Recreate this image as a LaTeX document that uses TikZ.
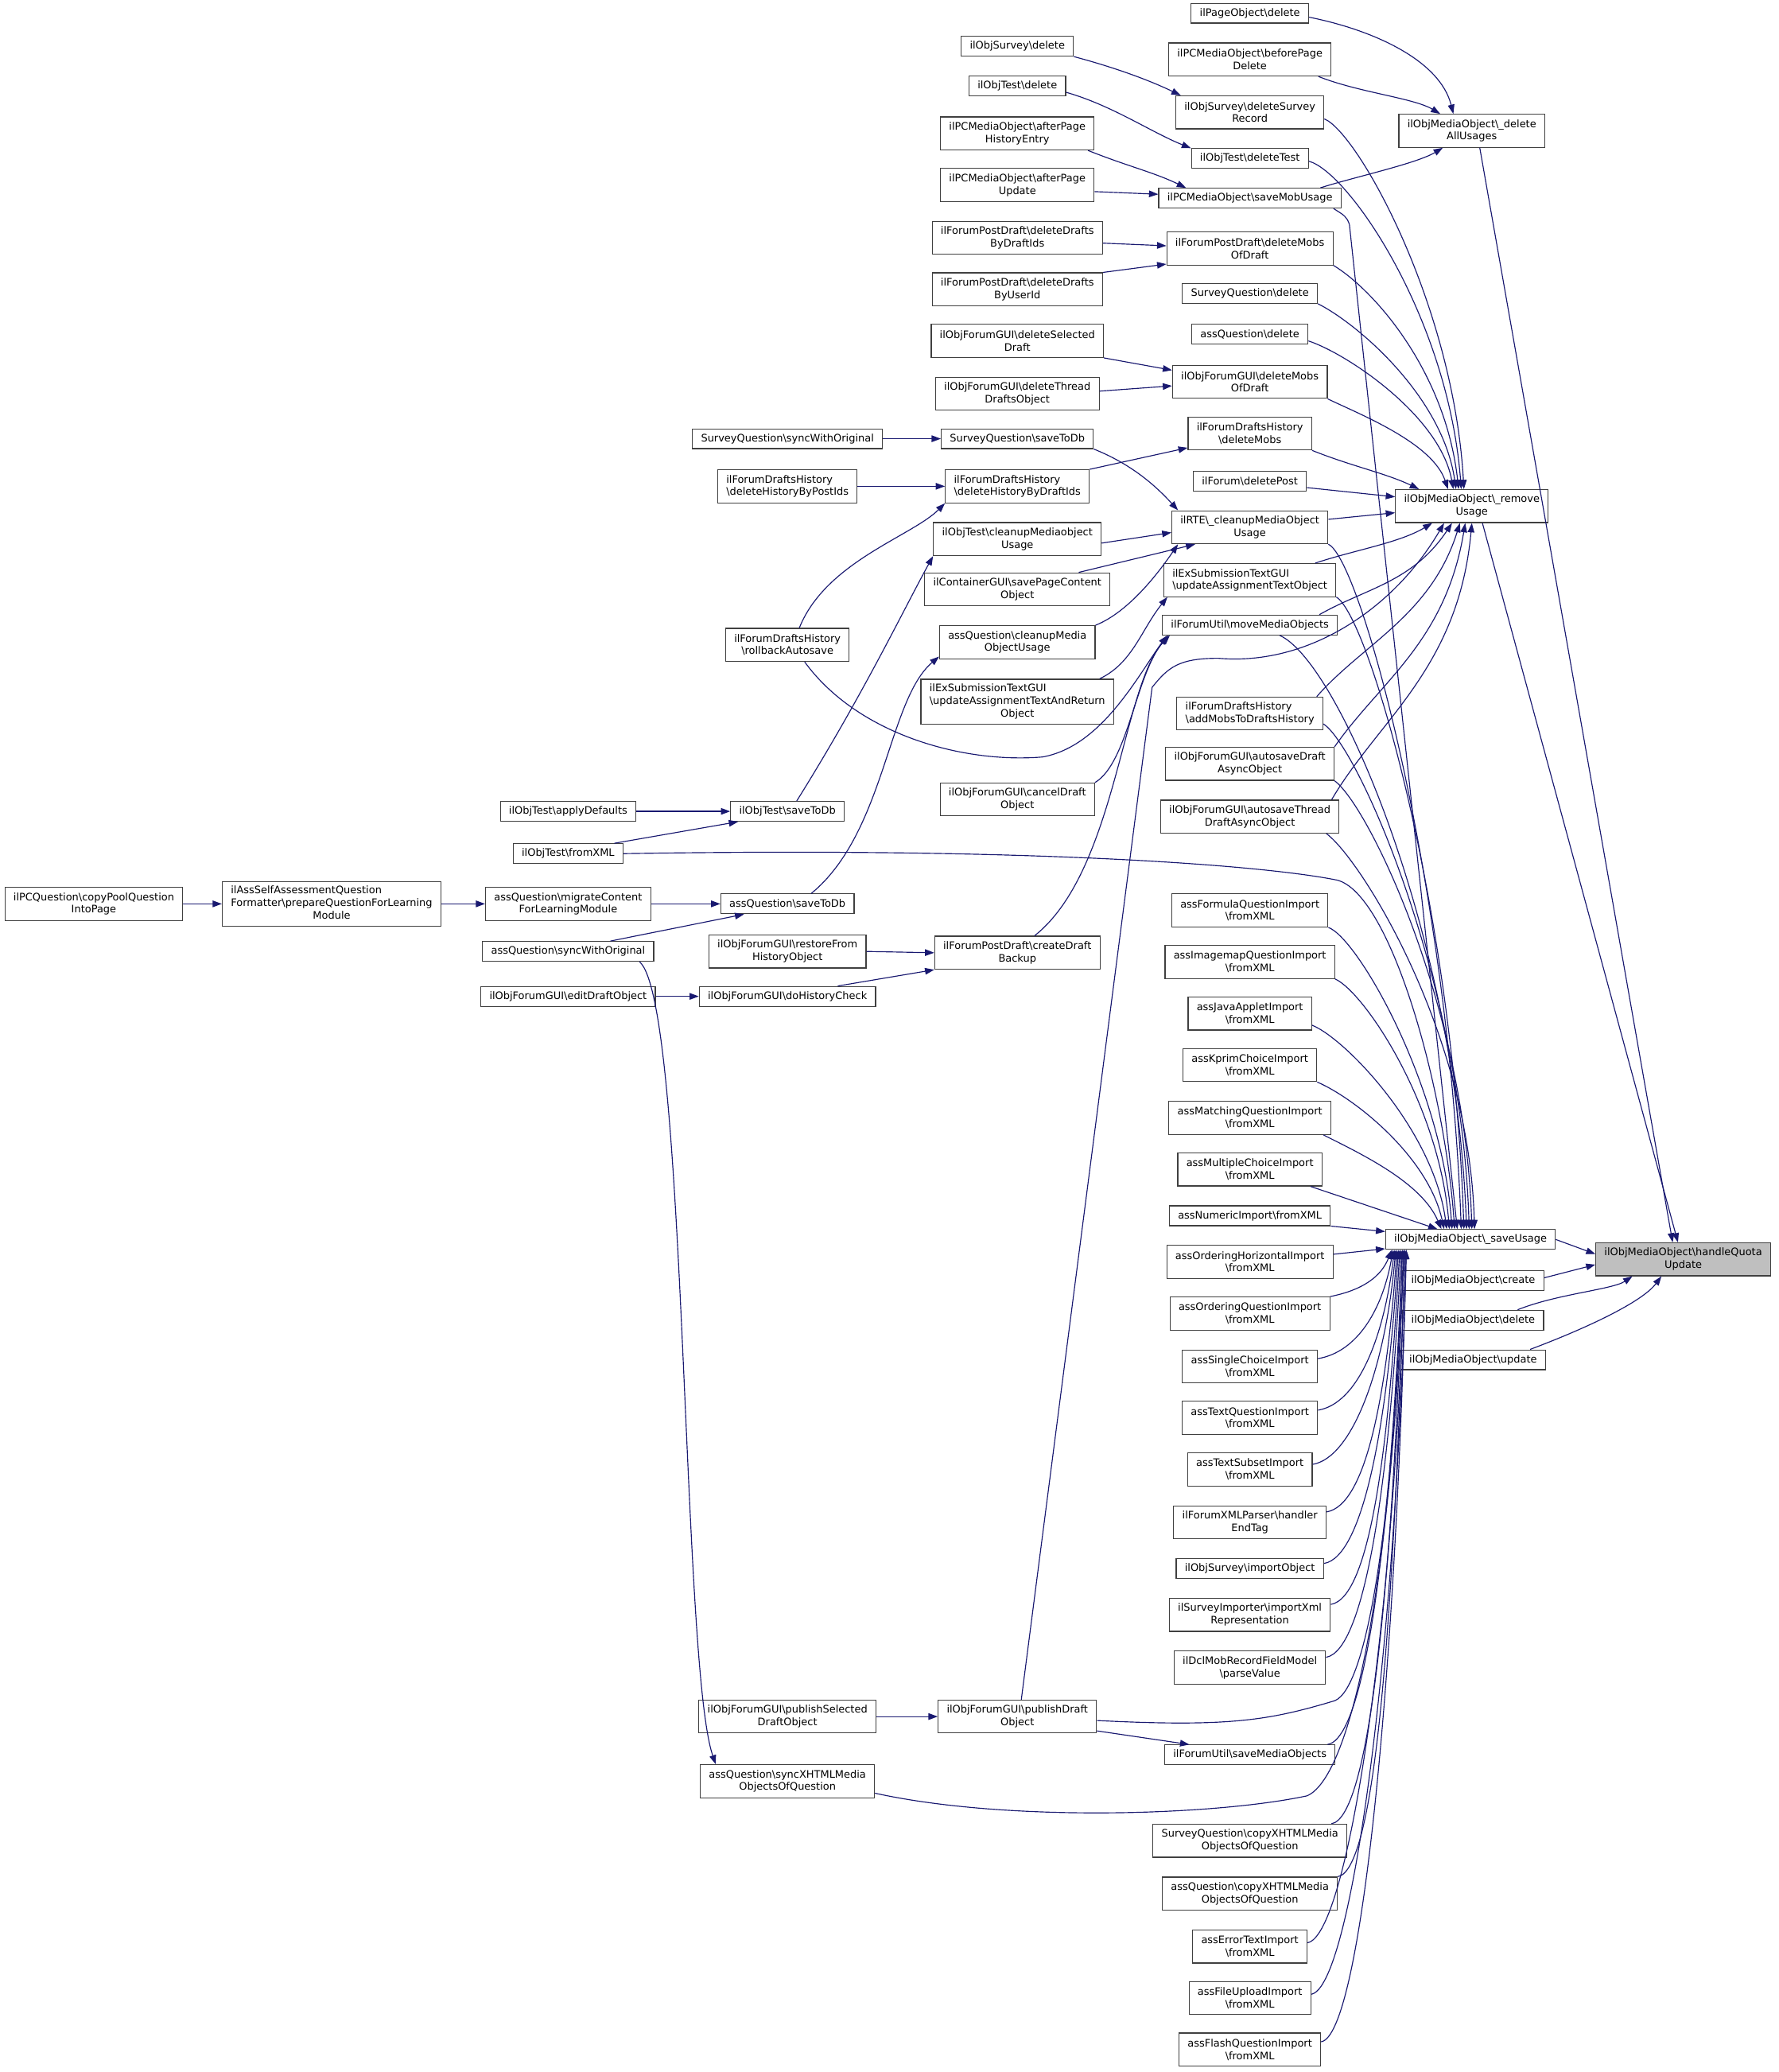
\documentclass[tikz,border=0pt]{standalone}
\usepackage{fontspec}
\setmainfont{DejaVu Sans}
\usetikzlibrary{arrows.meta}
\definecolor{dxEdge}{HTML}{191970}
\definecolor{dxLine}{HTML}{404040}
\definecolor{dxFocus}{HTML}{BFBFBF}
\newcommand{\bsl}{\textbackslash}

\begin{document}
\begin{tikzpicture}[
  x=1pt, y=-1pt,
  font=\fontsize{7.8}{9.5}\selectfont,
  fn/.style={draw=dxLine, fill=white, line width=0.7pt, align=center,
    inner xsep=6.5pt, inner ysep=0pt, minimum height=15pt},
  fn2/.style={fn, minimum height=25pt},
  fn3/.style={fn, minimum height=34pt},
  fnl/.style={fn2, align=left},
  cur/.style={fn2, fill=dxFocus},
  call/.style={draw=dxEdge, line width=0.7pt, -{Triangle[length=7pt,width=5pt]}},
]
\useasboundingbox (0,0) rectangle (1346,1568);

% callee side
\node[cur] (hq) at (1274,953) {ilObjMediaObject\bsl handleQuota\\Update};
\node[fn] (su) at (1113,938) {ilObjMediaObject\bsl\_saveUsage};
\node[fn] (mcr) at (1115,969) {ilObjMediaObject\bsl create};
\node[fn] (mdl) at (1115,999) {ilObjMediaObject\bsl delete};
\node[fn] (mup) at (1115,1029) {ilObjMediaObject\bsl update};
\node[fn2] (dau) at (1114,99) {ilObjMediaObject\bsl\_delete\\AllUsages};
\node[fn2] (ru) at (1114,383) {ilObjMediaObject\bsl\_remove\\Usage};

% direct callers
\node[fn] (pod) at (946,10) {ilPageObject\bsl delete};
\node[fn2] (bpd) at (946,45) {ilPCMediaObject\bsl beforePage\\Delete};
\node[fn2] (dsr) at (946,85) {ilObjSurvey\bsl deleteSurvey\\Record};
\node[fn] (dtt) at (946,120) {ilObjTest\bsl deleteTest};
\node[fn] (smu) at (946,150) {ilPCMediaObject\bsl saveMobUsage};
\node[fn2] (fdm) at (946,188) {ilForumPostDraft\bsl deleteMobs\\OfDraft};
\node[fn] (sqd) at (946,222) {SurveyQuestion\bsl delete};
\node[fn] (aqd) at (946,253) {assQuestion\bsl delete};
\node[fn2] (gdm) at (946,289) {ilObjForumGUI\bsl deleteMobs\\OfDraft};
\node[fn2] (hdm) at (946,328) {ilForumDraftsHistory\\\bsl deleteMobs};
\node[fn] (fdp) at (946,364) {ilForum\bsl deletePost};
\node[fn2] (rte) at (946,399) {ilRTE\bsl\_cleanupMediaObject\\Usage};
\node[fnl] (uat) at (946,439) {ilExSubmissionTextGUI\\\bsl updateAssignmentTextObject};
\node[fn] (mmo) at (946,473) {ilForumUtil\bsl moveMediaObjects};
\node[fnl] (amh) at (946,540) {ilForumDraftsHistory\\\bsl addMobsToDraftsHistory};
\node[fn2] (asd) at (946,578) {ilObjForumGUI\bsl autosaveDraft\\AsyncObject};
\node[fn2] (ast) at (946,618) {ilObjForumGUI\bsl autosaveThread\\DraftAsyncObject};
\node[fn2] (afq) at (946,689) {assFormulaQuestionImport\\\bsl fromXML};
\node[fn2] (aiq) at (946,728) {assImagemapQuestionImport\\\bsl fromXML};
\node[fn2] (aja) at (946,767) {assJavaAppletImport\\\bsl fromXML};
\node[fn2] (akc) at (946,806) {assKprimChoiceImport\\\bsl fromXML};
\node[fn2] (amq) at (946,846) {assMatchingQuestionImport\\\bsl fromXML};
\node[fn2] (amc) at (946,885) {assMultipleChoiceImport\\\bsl fromXML};
\node[fn] (ani) at (946,920) {assNumericImport\bsl fromXML};
\node[fn2] (aoh) at (946,955) {assOrderingHorizontalImport\\\bsl fromXML};
\node[fn2] (aoq) at (946,994) {assOrderingQuestionImport\\\bsl fromXML};
\node[fn2] (asc) at (946,1034) {assSingleChoiceImport\\\bsl fromXML};
\node[fn2] (atq) at (946,1073) {assTextQuestionImport\\\bsl fromXML};
\node[fn2] (ats) at (946,1112) {assTextSubsetImport\\\bsl fromXML};
\node[fn2] (fxp) at (946,1152) {ilForumXMLParser\bsl handler\\EndTag};
\node[fn] (soi) at (946,1187) {ilObjSurvey\bsl importObject};
\node[fn2] (sim) at (946,1222) {ilSurveyImporter\bsl importXml\\Representation};
\node[fn2] (dcl) at (946,1262) {ilDclMobRecordFieldModel\\\bsl parseValue};
\node[fn] (fsm) at (946,1328) {ilForumUtil\bsl saveMediaObjects};
\node[fn2] (scx) at (946,1393) {SurveyQuestion\bsl copyXHTMLMedia\\ObjectsOfQuestion};
\node[fn2] (acx) at (946,1433) {assQuestion\bsl copyXHTMLMedia\\ObjectsOfQuestion};
\node[fn2] (aet) at (946,1473) {assErrorTextImport\\\bsl fromXML};
\node[fn2] (afu) at (946,1512) {assFileUploadImport\\\bsl fromXML};
\node[fn2] (afl) at (946,1551) {assFlashQuestionImport\\\bsl fromXML};

% second level
\node[fn] (osd) at (770,35) {ilObjSurvey\bsl delete};
\node[fn] (otd) at (770,65) {ilObjTest\bsl delete};
\node[fn2] (phe) at (770,101) {ilPCMediaObject\bsl afterPage\\HistoryEntry};
\node[fn2] (pau) at (770,140) {ilPCMediaObject\bsl afterPage\\Update};
\node[fn2] (ddi) at (770,180) {ilForumPostDraft\bsl deleteDrafts\\ByDraftIds};
\node[fn2] (dui) at (770,219) {ilForumPostDraft\bsl deleteDrafts\\ByUserId};
\node[fn2] (dsd) at (770,258) {ilObjForumGUI\bsl deleteSelected\\Draft};
\node[fn2] (dtd) at (770,298) {ilObjForumGUI\bsl deleteThread\\DraftsObject};
\node[fn] (sqs) at (770,332) {SurveyQuestion\bsl saveToDb};
\node[fnl] (dhd) at (770,368) {ilForumDraftsHistory\\\bsl deleteHistoryByDraftIds};
\node[fn2] (tcu) at (770,408) {ilObjTest\bsl cleanupMediaobject\\Usage};
\node[fn2] (cpc) at (770,446) {ilContainerGUI\bsl savePageContent\\Object};
\node[fn2] (aqc) at (770,486) {assQuestion\bsl cleanupMedia\\ObjectUsage};
\node[fn3] (uar) at (770,531) {\begin{tabular}{@{}l@{}}ilExSubmissionTextGUI\\\bsl updateAssignmentTextAndReturn\\\multicolumn{1}{@{}c@{}}{Object}\end{tabular}};
\node[fn2] (cdo) at (770,605) {ilObjForumGUI\bsl cancelDraft\\Object};
\node[fn2] (cdb) at (770,721) {ilForumPostDraft\bsl createDraft\\Backup};
\node[fn2] (pdo) at (770,1299) {ilObjForumGUI\bsl publishDraft\\Object};

% third level
\node[fn] (sqo) at (596,332) {SurveyQuestion\bsl syncWithOriginal};
\node[fnl] (dhp) at (596,368) {ilForumDraftsHistory\\\bsl deleteHistoryByPostIds};
\node[fn2] (rba) at (596,488) {ilForumDraftsHistory\\\bsl rollbackAutosave};
\node[fn] (ots) at (596,614) {ilObjTest\bsl saveToDb};
\node[fn] (aqs) at (596,684) {assQuestion\bsl saveToDb};
\node[fn2] (rfh) at (596,720) {ilObjForumGUI\bsl restoreFrom\\HistoryObject};
\node[fn] (dhc) at (596,754) {ilObjForumGUI\bsl doHistoryCheck};
\node[fn2] (psd) at (596,1299) {ilObjForumGUI\bsl publishSelected\\DraftObject};
\node[fn2] (sxq) at (596,1348) {assQuestion\bsl syncXHTMLMedia\\ObjectsOfQuestion};

% outer levels
\node[fn] (otad) at (430,614) {ilObjTest\bsl applyDefaults};
\node[fn] (otx) at (430,646) {ilObjTest\bsl fromXML};
\node[fn2] (mcl) at (430,684) {assQuestion\bsl migrateContent\\ForLearningModule};
\node[fn] (aqo) at (430,720) {assQuestion\bsl syncWithOriginal};
\node[fn] (ede) at (430,754) {ilObjForumGUI\bsl editDraftObject};
\node[fn3] (asq) at (251,684) {\begin{tabular}{@{}l@{}}ilAssSelfAssessmentQuestion\\Formatter\bsl prepareQuestionForLearning\\\multicolumn{1}{@{}c@{}}{Module}\end{tabular}};
\node[fn2] (cpq) at (71,684) {ilPCQuestion\bsl copyPoolQuestion\\IntoPage};

% into handleQuota
\draw[call] (su.east) -- ([yshift=4pt]hq.west);
\draw[call] ([yshift=2pt]mcr.east) -- ([yshift=-4pt]hq.west);
\draw[call] ([xshift=-20pt]mdl.north east) .. controls +(30,-12) and +(-15,10) .. ([xshift=28pt]hq.south west);
\draw[call] ([xshift=-12pt]mup.north east) .. controls +(40,-15) and +(-15,20) .. ([xshift=50pt]hq.south west);
\draw[call] ([xshift=6pt]dau.south) -- ([xshift=-8pt]hq.north);
\draw[call] ([xshift=8pt]ru.south) -- ([xshift=-4pt]hq.north);

% into _deleteAllUsages
\draw[call] ([yshift=-3pt]pod.east) .. controls +(50,10) and +(-10,-40) .. ([xshift=-14pt]dau.north);
\draw[call] ([xshift=-10pt]bpd.south east) .. controls +(30,12) and +(-20,-12) .. ([xshift=-24pt]dau.north);
\draw[call] ([xshift=-16pt]smu.north east) .. controls +(25,-8) and +(-20,12) .. ([xshift=-22pt]dau.south);

% into _removeUsage
\draw[call] ([yshift=-5pt]dsr.east) .. controls +(25,10) and +(-8,-140) .. ([xshift=-6pt]ru.north);
\draw[call] ([yshift=-2pt]dtt.east) .. controls +(30,8) and +(-10,-130) .. ([xshift=-8pt]ru.north);
\draw[call] (fdm.south east) .. controls +(30,18) and +(-10,-90) .. ([xshift=-10pt]ru.north);
\draw[call] (sqd.south east) .. controls +(30,15) and +(-10,-70) .. ([xshift=-12pt]ru.north);
\draw[call] ([yshift=-5pt]aqd.east) .. controls +(30,10) and +(-10,-55) .. ([xshift=-14pt]ru.north);
\draw[call] (gdm.south east) .. controls +(25,12) and +(-12,-35) .. ([xshift=-18pt]ru.north);
\draw[call] (hdm.south east) .. controls +(30,12) and +(-25,-12) .. ([xshift=-40pt]ru.north);
\draw[call] ([yshift=-5pt]fdp.east) -- ([yshift=7pt]ru.west);
\draw[call] ([yshift=6pt]rte.east) -- ([yshift=-5pt]ru.west);
\draw[call] ([xshift=-16pt]uat.north east) .. controls +(30,-10) and +(-25,15) .. ([xshift=-30pt]ru.south);
\draw[call] ([xshift=-14pt]mmo.north east) .. controls +(35,-20) and +(-30,45) .. ([xshift=-15pt]ru.south);
\draw[call] ([xshift=-5pt]amh.north east) .. controls +(35,-40) and +(-22,70) .. ([xshift=-9pt]ru.south);
\draw[call] (asd.north east) .. controls +(35,-50) and +(-15,90) .. ([xshift=-5pt]ru.south);
\draw[call] ([xshift=-6pt]ast.north east) .. controls +(35,-60) and +(-10,110) .. (ru.south);
\draw[call] ([xshift=3pt]pdo.north) -- ++(99,-766) .. controls +(12,-15) and +(-30,0) .. ++(50,-22) .. controls +(68,6) and +(-38,65) .. ([xshift=-21pt]ru.south);

% into _saveUsage from above
\draw[call] ([xshift=-6pt]smu.south east) .. controls +(8,5) and +(-2,-6) .. ++(12,12) -- ([xshift=-10pt]su.north);
\draw[call] (rte.south east) .. controls +(25,12) and +(-10,-260) .. ([xshift=-7pt]su.north);
\draw[call] (uat.south east) .. controls +(25,15) and +(-8,-240) .. ([xshift=-5pt]su.north);
\draw[call] ([xshift=-44pt]mmo.south east) .. controls +(45,20) and +(-8,-220) .. ([xshift=-3pt]su.north);
\draw[call] ([yshift=5pt]amh.south east) .. controls +(25,15) and +(-6,-190) .. ([xshift=-1pt]su.north);
\draw[call] (asd.south east) .. controls +(25,18) and +(-5,-170) .. ([xshift=1pt]su.north);
\draw[call] ([xshift=-10pt]ast.south east) .. controls +(25,18) and +(-4,-150) .. ([xshift=3pt]su.north);
\draw[call] (otx.east) .. controls +(300,-5) and +(-60,-12) .. ++(540,20) .. controls +(40,10) and +(-8,-110) .. ([xshift=-12pt]su.north);
\draw[call] (afq.south east) .. controls +(22,8) and +(-8,-110) .. ([xshift=-14pt]su.north);
\draw[call] (aiq.south east) .. controls +(22,10) and +(-8,-95) .. ([xshift=-16pt]su.north);
\draw[call] ([yshift=4pt]aja.south east) .. controls +(25,10) and +(-10,-75) .. ([xshift=-18pt]su.north);
\draw[call] (akc.south east) .. controls +(28,12) and +(-12,-55) .. ([xshift=-20pt]su.north);
\draw[call] ([xshift=-6pt]amq.south east) .. controls +(30,15) and +(-15,-35) .. ([xshift=-22pt]su.north);
\draw[call] ([xshift=-9pt]amc.south east) -- ([xshift=-25pt]su.north);
\draw[call] (ani.south east) -- ([yshift=6pt]su.west);
\draw[call] ([yshift=-7pt]aoh.north east) -- ([yshift=-7pt]su.west);

% into _saveUsage from below
\draw[call] (aoq.north east) .. controls +(25,-5) and +(-8,20) .. ([xshift=5pt]su.south west);
\draw[call] ([yshift=-7pt]asc.north east) .. controls +(30,-5) and +(-8,45) .. ([xshift=6pt]su.south west);
\draw[call] ([yshift=-7pt]atq.north east) .. controls +(30,-5) and +(-8,67) .. ([xshift=7pt]su.south west);
\draw[call] ([yshift=-9pt]ats.north east) .. controls +(30,-5) and +(-8,90) .. ([xshift=8pt]su.south west);
\draw[call] ([yshift=-5pt]fxp.north east) .. controls +(30,-5) and +(-8,110) .. ([xshift=9pt]su.south west);
\draw[call] ([yshift=-4pt]soi.north east) .. controls +(30,-5) and +(-8,130) .. ([xshift=10pt]su.south west);
\draw[call] ([yshift=-5pt]sim.north east) .. controls +(30,-5) and +(-8,147) .. ([xshift=11pt]su.south west);
\draw[call] ([yshift=-5pt]dcl.north east) .. controls +(30,-5) and +(-8,170) .. ([xshift=12pt]su.south west);
\draw[call] ([yshift=-3pt]pdo.east) .. controls +(100,5) and +(-50,15) .. ++(180,-15) .. controls +(25,-10) and +(-6,200) .. ([xshift=13pt]su.south west);
\draw[call] ([xshift=-6pt]fsm.north east) .. controls +(30,-5) and +(-8,205) .. ([xshift=13pt]su.south west);
\draw[call] ([yshift=-9pt]sxq.east) .. controls +(100,22) and +(-70,15) .. ++(327,2) .. controls +(35,-15) and +(-8,240) .. ([xshift=14pt]su.south west);
\draw[call] ([xshift=-12pt]scx.north east) .. controls +(30,-5) and +(-8,240) .. ([xshift=14pt]su.south west);
\draw[call] (acx.north east) .. controls +(30,-5) and +(-8,262) .. ([xshift=15pt]su.south west);
\draw[call] ([yshift=-10pt]aet.north east) .. controls +(30,-5) and +(-8,288) .. ([xshift=15pt]su.south west);
\draw[call] ([yshift=-10pt]afu.north east) .. controls +(30,-5) and +(-8,310) .. ([xshift=16pt]su.south west);
\draw[call] ([yshift=-7pt]afl.north east) .. controls +(30,-5) and +(-8,330) .. ([xshift=16pt]su.south west);

% second level into first
\draw[call] (osd.south east) .. controls +(30,8) and +(-25,-12) .. ([xshift=4pt]dsr.north west);
\draw[call] ([yshift=3pt]otd.south east) .. controls +(35,10) and +(-30,-12) .. (dtt.north west);
\draw[call] ([xshift=-5pt]phe.south east) .. controls +(30,12) and +(-25,-12) .. ([xshift=21pt]smu.north west);
\draw[call] ([yshift=-5pt]pau.east) -- ([yshift=3pt]smu.west);
\draw[call] ([yshift=-4pt]ddi.east) -- ([yshift=2pt]fdm.west);
\draw[call] (dui.north east) -- ([yshift=1pt]fdm.south west);
\draw[call] (dsd.south east) -- ([yshift=-4pt]gdm.north west);
\draw[call] ([yshift=2pt]dtd.east) -- ([yshift=-3pt]gdm.west);
\draw[call] (sqs.south east) .. controls +(25,10) and +(-20,-22) .. ([xshift=5pt]rte.north west);
\draw[call] (dhd.north east) -- ([yshift=2pt]hdm.south west);
\draw[call] ([yshift=-3pt]tcu.east) -- ([yshift=-4pt]rte.west);
\draw[call] ([xshift=-24pt]cpc.north east) -- ([xshift=18pt]rte.south west);
\draw[call] (aqc.north east) .. controls +(25,-10) and +(-15,22) .. ([xshift=5pt]rte.south west);
\draw[call] ([xshift=-11pt]uar.north east) .. controls +(25,-12) and +(-20,25) .. ([xshift=3pt]uat.south west);
\draw[call] (cdo.north east) .. controls +(25,-15) and +(-25,30) .. ([xshift=5pt]mmo.south west);
\draw[call] ([xshift=13pt]cdb.north) .. controls +(62,-49) and +(-36,37) .. ([xshift=6pt]mmo.south west);
\draw[call] ([xshift=13pt]rba.south) .. controls +(40,55) and +(-60,5) .. ++(180,72) .. controls +(45,-8) and +(-22,30) .. ([xshift=4pt]mmo.south west);

% third level into second
\draw[call] (sqo.east) -- (sqs.west);
\draw[call] (dhp.east) -- (dhd.west);
\draw[call] ([xshift=9pt]rba.north) .. controls +(20,-50) and +(-25,25) .. (dhd.south west);
\draw[call] ([xshift=7pt]ots.north) .. controls +(50,-80) and +(-22,40) .. (tcu.south west);
\draw[call] ([xshift=18pt]aqs.north) .. controls +(56,-46) and +(-39,33) .. ([yshift=2pt]aqc.south west);
\draw[call] (rfh.east) -- (cdb.west);
\draw[call] ([xshift=-29pt]dhc.north east) -- (cdb.south west);
\draw[call] (psd.east) -- (pdo.west);
\draw[call] ([yshift=2pt]pdo.south east) -- ([xshift=19pt]fsm.north west);

% outer levels
\draw[call] (otad.east) -- (ots.west);
\draw[call] ([xshift=-7pt]otx.north east) -- ([xshift=6pt]ots.south west);
\draw[call] (mcl.east) -- (aqs.west);
\draw[call] ([xshift=32pt]aqo.north) -- ([xshift=18pt]aqs.south west);
\draw[call] ([xshift=-11pt]aqo.south east) .. controls +(36,32) and +(-26,-75) .. ([xshift=12pt]sxq.north west);
\draw[call] (ede.east) -- (dhc.west);
\draw[call] (cpq.east) -- (asq.west);
\draw[call] (asq.east) -- (mcl.west);
\end{tikzpicture}
\end{document}
